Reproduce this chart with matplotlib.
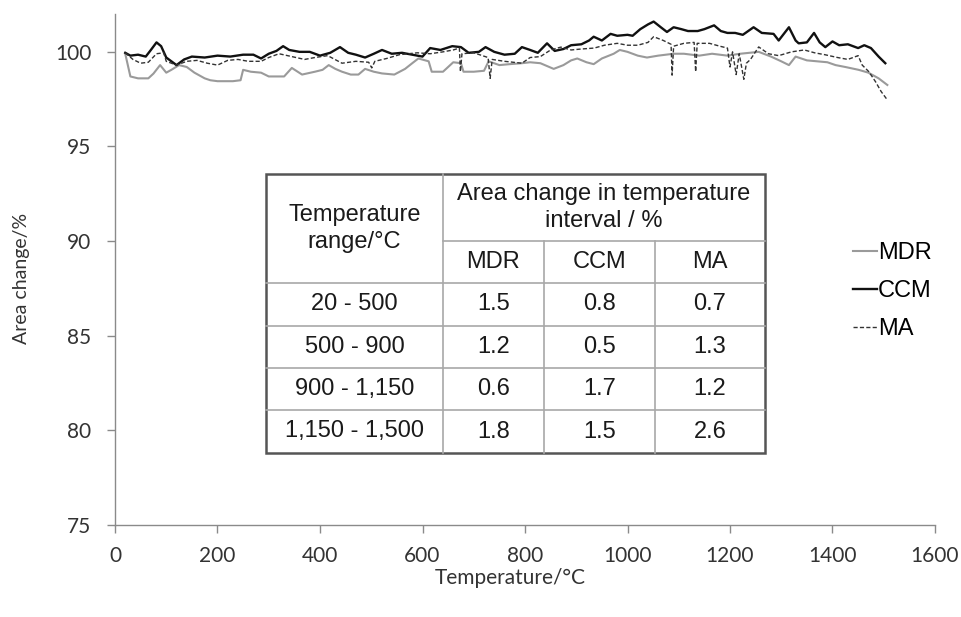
import matplotlib
matplotlib.use("Agg")
import matplotlib.pyplot as plt
from matplotlib.lines import Line2D

# ---------------- data ----------------
ccm_t = [20, 30, 45, 60, 70, 81, 90, 100, 110, 120, 135, 150, 175, 200, 225, 250, 270, 285, 300, 315,
         328, 340, 360, 380, 400, 420, 439, 455, 470, 488, 505, 521, 540, 560, 580, 600, 615, 635, 658, 675,
         690, 710, 723, 740, 760, 780, 794, 810, 825, 843, 858, 875, 890, 910, 925, 934, 950, 967, 980, 1000,
         1010, 1025, 1040, 1051, 1065, 1077, 1090, 1105, 1118, 1137, 1150, 1169, 1182, 1195, 1210, 1225, 1246,
         1262, 1285, 1295, 1315, 1328, 1334, 1350, 1364, 1375, 1386, 1400, 1413, 1430, 1450, 1462, 1475, 1490, 1503]
ccm_v = [99.95, 99.8, 99.85, 99.75, 100.1, 100.5, 100.3, 99.7, 99.5, 99.3, 99.6, 99.75, 99.7, 99.8, 99.75,
         99.85, 99.85, 99.65, 99.9, 100.05, 100.3, 100.1, 100.0, 100.0, 99.8, 99.95, 100.25, 99.95, 99.85, 99.7,
         99.9, 100.1, 99.9, 99.95, 99.85, 99.75, 100.2, 100.1, 100.3, 100.25, 99.95, 100.0, 100.25, 100.0, 99.85,
         99.9, 100.25, 100.1, 99.95, 100.45, 100.05, 100.15, 100.35, 100.4, 100.6, 100.8, 100.6, 100.95, 100.85,
         100.9, 100.85, 101.2, 101.45, 101.6, 101.3, 101.05, 101.3, 101.2, 101.1, 101.1, 101.2, 101.4, 101.1,
         101.0, 101.0, 100.9, 101.3, 101.0, 100.95, 100.6, 101.3, 100.6, 100.45, 100.5, 101.0, 100.5, 100.25,
         100.55, 100.35, 100.4, 100.2, 100.35, 100.2, 99.75, 99.4]

mdr_t = [20, 25, 30, 45, 65, 75, 88, 100, 110, 125, 140, 155, 175, 186, 200, 230, 245, 250, 265, 285,
         300, 330, 345, 365, 390, 405, 417, 430, 443, 460, 475, 488, 505, 521, 545, 566, 580, 592, 612, 618,
         640, 660, 675, 680, 700, 720, 729, 750, 770, 794, 810, 830, 843, 856, 875, 890, 902, 920, 934, 950,
         973, 985, 1000, 1020, 1038, 1060, 1090, 1110, 1140, 1165, 1195, 1220, 1256, 1280, 1300, 1315, 1328,
         1350, 1370, 1390, 1406, 1425, 1451, 1470, 1490, 1507]
mdr_v = [99.9, 99.3, 98.7, 98.6, 98.6, 98.85, 99.3, 98.9, 99.05, 99.3, 99.2, 98.9, 98.6, 98.5, 98.45, 98.45,
         98.5, 99.05, 98.95, 98.9, 98.7, 98.7, 99.15, 98.8, 98.95, 99.05, 99.3, 99.1, 98.95, 98.8, 98.8, 99.1,
         98.95, 98.86, 98.8, 99.1, 99.4, 99.65, 99.5, 98.95, 98.95, 99.45, 99.4, 98.95, 98.95, 99.0, 99.5, 99.3,
         99.35, 99.4, 99.45, 99.4, 99.25, 99.1, 99.3, 99.55, 99.65, 99.45, 99.35, 99.65, 99.9, 100.1, 100.0,
         99.8, 99.7, 99.8, 99.9, 99.9, 99.8, 99.9, 99.8, 99.9, 100.0, 99.75, 99.5, 99.3, 99.75, 99.55, 99.5,
         99.45, 99.3, 99.2, 99.05, 98.9, 98.6, 98.25]

ma_t = [20, 35, 50, 65, 81, 95, 100, 120, 140, 160, 180, 200, 220, 240, 260, 285, 300, 320, 345, 370,
        390, 415, 443, 470, 495, 501, 507, 530, 555, 590, 615, 640, 660, 672, 674, 677, 700, 728, 732, 736,
        760, 794, 810, 830, 850, 870, 890, 910, 935, 955, 980, 1000, 1020, 1040, 1051, 1070, 1085, 1087, 1090,
        1110, 1130, 1133, 1136, 1160, 1180, 1195, 1200, 1205, 1212, 1218, 1227, 1232, 1240, 1256, 1275, 1295,
        1320, 1345, 1365, 1385, 1410, 1430, 1450, 1458, 1471, 1484, 1495, 1507]
ma_v = [99.95, 99.6, 99.4, 99.45, 99.9, 99.95, 99.5, 99.3, 99.5, 99.55, 99.4, 99.3, 99.55, 99.6, 99.5, 99.5,
        99.7, 99.9, 99.75, 99.6, 99.7, 99.8, 99.4, 99.5, 99.45, 99.15, 99.5, 99.65, 99.85, 99.95, 99.9, 100.0,
        100.1, 100.2, 98.95, 99.9, 99.95, 99.7, 98.6, 99.6, 99.5, 99.4, 99.7, 99.75, 100.1, 100.25, 100.1,
        100.15, 100.2, 100.35, 100.45, 100.35, 100.35, 100.5, 100.8, 100.6, 100.4, 98.77, 100.3, 100.45, 100.5,
        98.95, 100.45, 100.45, 100.3, 100.2, 99.2, 100.0, 98.8, 99.9, 98.55, 99.4, 99.6, 100.26, 99.9, 99.8,
        100.0, 100.1, 99.95, 99.85, 99.7, 99.6, 99.8, 99.3, 98.95, 98.42, 97.9, 97.46]

series_names = ["MDR", "CCM", "MA"]

x_ticks = [0, 200, 400, 600, 800, 1000, 1200, 1400, 1600]
y_ticks = [75, 80, 85, 90, 95, 100]

table_corner = "Temperature\nrange/°C"
table_group = "Area change in temperature\ninterval / %"
table_ranges = ["20 - 500", "500 - 900", "900 - 1,150", "1,150 - 1,500"]
table_mdr = ["1.5", "1.2", "0.6", "1.8"]
table_ccm = ["0.8", "0.5", "1.7", "1.5"]
table_ma = ["0.7", "1.3", "1.2", "2.6"]

# ---------------- figure ----------------
W, H = 962, 617
fig = plt.figure(figsize=(W / 100, H / 100), dpi=100)
ax = fig.add_axes([115 / W, 1 - 525 / H, (935 - 115) / W, (525 - 14) / H])

ax.plot(mdr_t, mdr_v, color="#9a9a9a", lw=1.5, label="MDR")
ax.plot(ccm_t, ccm_v, color="#111111", lw=1.7, label="CCM")
ax.plot(ma_t, ma_v, color="#333333", lw=1.0, ls=(0, (3, 1.6)), label="MA")

ax.set_xlim(0, 1600)
ax.set_ylim(75, 102)
ax.set_xticks(x_ticks)
ax.set_yticks(y_ticks)
for s in ["top", "right"]:
    ax.spines[s].set_visible(False)
for s in ["left", "bottom"]:
    ax.spines[s].set_color("#8a8a8a")
    ax.spines[s].set_linewidth(1.0)
ax.tick_params(axis="both", direction="out", length=6, width=1.0, color="#8a8a8a",
               labelsize=15, labelcolor="#333333")
ax.tick_params(axis="x", pad=9)
ax.tick_params(axis="y", pad=11)
for lab in ax.get_xticklabels() + ax.get_yticklabels():
    lab.set_family("Lato")

fig.text(510 / W, 1 - 578 / H, "Temperature/°C", ha="center", va="center",
         fontsize=15, family="Lato", color="#333333")
fig.text(22 / W, 1 - 278 / H, "Area change/%", ha="center", va="center",
         rotation=90, fontsize=14, family="Lato", color="#333333")

# legend
handles = [Line2D([], [], color="#9a9a9a", lw=1.5),
           Line2D([], [], color="#111111", lw=1.7),
           Line2D([], [], color="#333333", lw=1.0, ls=(0, (3, 1.6)))]
fig.legend(handles, series_names, loc="upper left", bbox_to_anchor=(832 / W, 1 - 221 / H),
           frameon=False, handlelength=1.0, handletextpad=0.05, labelspacing=0.68,
           prop={"family": "Liberation Sans", "size": 17})

# table
xe = [266, 443, 544, 655, 765]
ye = [174, 241, 283, 326, 368, 410, 453]
fx = lambda p: p / W
fy = lambda p: 1 - p / H
inner = dict(color="#a8a8a8", lw=1.2, transform=fig.transFigure)
fig.add_artist(Line2D([fx(xe[1]), fx(xe[4])], [fy(ye[1])] * 2, **inner))
for yy in ye[2:6]:
    fig.add_artist(Line2D([fx(xe[0]), fx(xe[4])], [fy(yy)] * 2, **inner))
fig.add_artist(Line2D([fx(xe[1])] * 2, [fy(ye[0]), fy(ye[6])], **inner))
for xx in xe[2:4]:
    fig.add_artist(Line2D([fx(xx)] * 2, [fy(ye[1]), fy(ye[6])], **inner))
fig.add_artist(plt.Rectangle((fx(xe[0]), fy(ye[6])), fx(xe[4]) - fx(xe[0]), fy(ye[0]) - fy(ye[6]),
                             fill=False, ec="#555555", lw=1.8, transform=fig.transFigure))

tkw = dict(ha="center", va="center", fontsize=17, family="Liberation Sans", color="#1a1a1a")
fig.text(fx((xe[0] + xe[1]) / 2), fy((ye[0] + ye[2]) / 2), table_corner, linespacing=1.3, **tkw)
fig.text(fx((xe[1] + xe[4]) / 2), fy((ye[0] + ye[1]) / 2), table_group, linespacing=1.25, **tkw)
for i, name in enumerate(series_names):
    fig.text(fx((xe[i + 1] + xe[i + 2]) / 2), fy((ye[1] + ye[2]) / 2), name, **tkw)
cols = [table_ranges, table_mdr, table_ccm, table_ma]
for r in range(4):
    yc = fy((ye[r + 2] + ye[r + 3]) / 2)
    for c in range(4):
        fig.text(fx((xe[c] + xe[c + 1]) / 2), yc, cols[c][r], **tkw)

fig.savefig("out.png", dpi=100)
